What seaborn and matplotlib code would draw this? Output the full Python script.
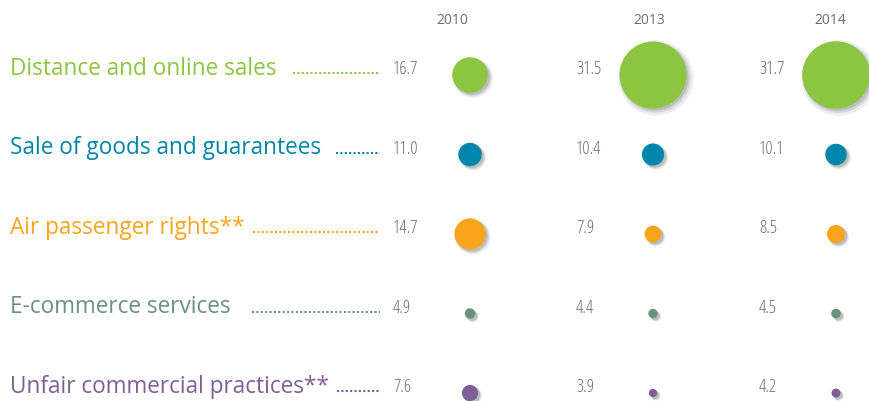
import numpy as np
import pandas as pd
import matplotlib
matplotlib.use("Agg")
import matplotlib.pyplot as plt
import matplotlib.transforms as mtransforms
import seaborn as sns

# data
categories = ["Distance and online sales", "Sale of goods and guarantees",
              "Air passenger rights**", "E-commerce services",
              "Unfair commercial practices**"]
years = ["2010", "2013", "2014"]
v2010 = [16.7, 11.0, 14.7, 4.9, 7.6]
v2013 = [31.5, 10.4, 7.9, 4.4, 3.9]
v2014 = [31.7, 10.1, 8.5, 4.5, 4.2]
colors = ["#8cc641", "#0086ab", "#f8a51b", "#6a917c", "#7e5f97"]

rows = []
for i, yr in enumerate(years):
    vals = [v2010, v2013, v2014][i]
    for j, cat in enumerate(categories):
        rows.append({"cat": cat, "year": yr, "xi": i, "yi": j, "value": vals[j]})
df = pd.DataFrame(rows)

W, H, DPI = 869, 401, 100
fig = plt.figure(figsize=(W / DPI, H / DPI), dpi=DPI)
ax = fig.add_axes([0, 0, 1, 1])

# pixel layout: bubble columns at x=470 + 183*i, rows at y=75 + 79.5*j
px_x0, px_dx = 470, 183
px_y0, px_dy = 75, 79.5
ax.set_xlim(-px_x0 / px_dx, (W - px_x0) / px_dx)
ax.set_ylim((H - px_y0) / px_dy, -px_y0 / px_dy)
ax.axis("off")

# diameter in px ~ 2.13 * value -> marker area in pt^2
k = 2.13 * 72 / DPI
df["area"] = (k * df["value"]) ** 2

# soft drop shadow
for dx, dy, a, grow in [(3, -3, 0.10, 1.25), (2.5, -2.5, 0.15, 1.1), (2, -2, 0.2, 1.0)]:
    tr = mtransforms.offset_copy(ax.transData, fig=fig, x=dx, y=dy, units="dots")
    ax.scatter(df["xi"], df["yi"], s=df["area"] * grow, color="#555555",
               alpha=a, linewidths=0, transform=tr, zorder=1)

sns.scatterplot(data=df, x="xi", y="yi", hue="cat", palette=colors,
                size="area", sizes=(df["area"].min(), df["area"].max()),
                size_norm=(df["area"].min(), df["area"].max()),
                legend=False, linewidth=0, ax=ax, zorder=2)

font = "Open Sans"
num_col = "#6d6d6d"

# year headers (px offset from bubble centre)
year_dx = [-18, -4, -6]
for i, yr in enumerate(years):
    ax.text(i + year_dx[i] / px_dx, -0.69, yr, ha="center", va="center",
            fontsize=10, color=num_col, family=font)

# leader starts in px (end of label + gap)
lead_start = [293, 336, 252, 252, 336]
lead_end = 380
labels = []
for j, cat in enumerate(categories):
    t = ax.text(10 / px_dx - px_x0 / px_dx, j - 0.08, cat, ha="left", va="center",
                fontsize=16.3, color=colors[j], family=font)
    labels.append(t)

fig.canvas.draw()
rend = fig.canvas.get_renderer()
for j, t in enumerate(labels):
    end_px = t.get_window_extent(rend).x1
    start = max(lead_start[j], end_px + 8)
    xs = (np.array([start, lead_end]) - px_x0) / px_dx
    ax.plot(xs, [j - 0.02, j - 0.02], color=colors[j], lw=1.5,
            linestyle=(0, (1.0, 1.1)), dash_capstyle="butt")

for i, vals in enumerate([v2010, v2013, v2014]):
    for j, v in enumerate(vals):
        ax.text(i - 77 / px_dx, j - 0.07, f"{v:.1f}", ha="left", va="center",
                fontsize=13, color=num_col, family=font, stretch="condensed")

fig.savefig("out.png", dpi=DPI)
